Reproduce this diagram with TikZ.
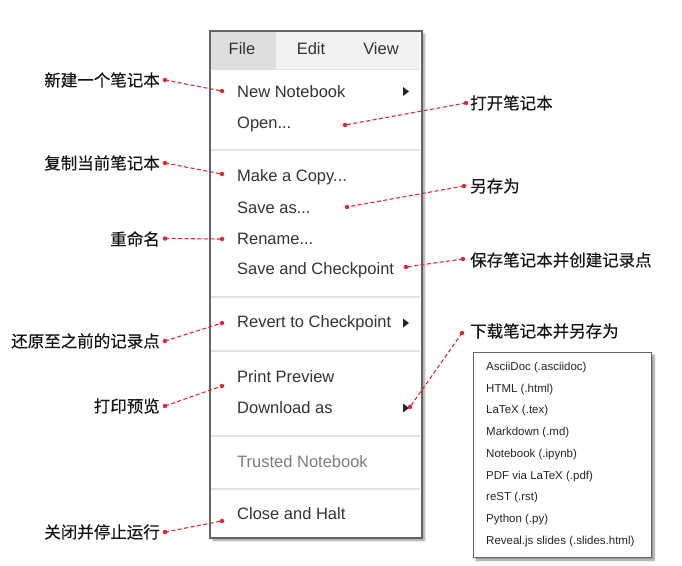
\documentclass[tikz,border=0pt]{standalone}
\usepackage{fontspec}
\setmainfont{Liberation Sans}
\newfontfamily\cjk[FakeBold=0.25]{Noto Sans CJK SC}
\usetikzlibrary{shadows.blur}
\definecolor{menutext}{RGB}{51,51,51}
\definecolor{menugray}{RGB}{125,125,125}
\definecolor{sepgray}{RGB}{226,226,226}
\definecolor{hdrbg}{RGB}{242,242,242}
\definecolor{filebg}{RGB}{222,222,222}
\definecolor{boxborder}{RGB}{100,100,100}
\definecolor{anred}{RGB}{228,38,48}
\tikzset{
  menuitem/.style={anchor=west, inner sep=0pt, text=menutext, font=\fontsize{16.5}{18}\selectfont},
  hdritem/.style={anchor=center, inner sep=0pt, text=menutext, font=\fontsize{16.5}{18}\selectfont},
  dlitem/.style={anchor=west, inner sep=0pt, text=black!85, font=\fontsize{11.5}{13}\selectfont},
  lbl/.style={inner sep=0pt, text=black!92, font=\cjk\fontsize{16.5}{18}\selectfont},
  sep/.style={draw=sepgray, line width=2pt},
  annot/.style={draw=anred, dash pattern=on 4pt off 2.5pt, line width=1.1pt},
  dotmark/.style={circle, fill=anred, inner sep=0pt, minimum size=4.5pt},
  tri/.style={fill=black!85},
  framebox/.style={draw=boxborder, line width=1.3pt, fill=white,
     blur shadow={shadow xshift=2.5pt, shadow yshift=-2.5pt, shadow blur steps=6, shadow opacity=45}}
}
\begin{document}
\begin{tikzpicture}[x=1pt,y=-1pt]
\useasboundingbox (0,0) rectangle (682,565);
% menu box
\node[framebox, anchor=north west, minimum width=211pt, minimum height=506pt, inner sep=0pt] (menu) at (210,31) {};
\fill[hdrbg] (210.6,31.6) rectangle (420.4,69);
\fill[filebg] (210.6,31.6) rectangle (276,69);
\draw[sepgray, line width=1pt] (210.6,69) -- (420.4,69);
\node[hdritem] (hfile) at (242,49) {File};
\node[hdritem] (hedit) at (311,49) {Edit};
\node[hdritem] (hview) at (381,49) {View};
% separators
\foreach \yy in {150,297,351,436,489} \draw[sep] (211,\yy) -- (420,\yy);
% items
\node[menuitem] (inew) at (237,92) {New Notebook};
\node[menuitem] (iopen) at (237,124) {Open...};
\node[menuitem] (icopy) at (237,177) {Make a Copy...};
\node[menuitem] (isave) at (237,208) {Save as...};
\node[menuitem] (iren) at (237,239) {Rename...};
\node[menuitem] (ichk) at (237,270) {Save and Checkpoint};
\node[menuitem] (irev) at (237,323) {Revert to Checkpoint};
\node[menuitem] (iprint) at (237,377) {Print Preview};
\node[menuitem] (idl) at (237,408) {Download as};
\node[menuitem, text=menugray] (itrust) at (237,462) {Trusted Notebook};
\node[menuitem] (iclose) at (237,514) {Close and Halt};
% triangles
\fill[tri] (403,87) -- (409,91.5) -- (403,96) -- cycle;
\fill[tri] (403,318.5) -- (409,323) -- (403,327.5) -- cycle;
\fill[tri] (403,403.5) -- (409,408) -- (403,412.5) -- cycle;
\draw[boxborder, line width=1.3pt] (menu.north west) rectangle (menu.south east);
% download box
\node[framebox, anchor=north west, minimum width=178pt, minimum height=205pt, inner sep=0pt, line width=1pt] (dlbox) at (473,352) {};
\node[dlitem] (d1) at (486,368) {AsciiDoc (.asciidoc)};
\node[dlitem] (d2) at (486,390) {HTML (.html)};
\node[dlitem] (d3) at (486,411) {LaTeX (.tex)};
\node[dlitem] (d4) at (486,433) {Markdown (.md)};
\node[dlitem] (d5) at (486,455) {Notebook (.ipynb)};
\node[dlitem] (d6) at (486,477) {PDF via LaTeX (.pdf)};
\node[dlitem] (d7) at (486,498) {reST (.rst)};
\node[dlitem] (d8) at (486,520) {Python (.py)};
\node[dlitem] (d9) at (486,542) {Reveal.js slides (.slides.html)};
% left labels
\node[lbl, anchor=east] (lnew) at (160,80) {新建一个笔记本};
\node[lbl, anchor=east] (lcopy) at (160,163) {复制当前笔记本};
\node[lbl, anchor=east] (lren) at (160,239) {重命名};
\node[lbl, anchor=east] (lrev) at (160,341) {还原至之前的记录点};
\node[lbl, anchor=east] (lprint) at (160,406) {打印预览};
\node[lbl, anchor=east] (lclose) at (160,532) {关闭并停止运行};
% right labels
\node[lbl, anchor=west] (ropen) at (470,103) {打开笔记本};
\node[lbl, anchor=west] (rsave) at (470,186) {另存为};
\node[lbl, anchor=west] (rchk) at (470,260) {保存笔记本并创建记录点};
\node[lbl, anchor=west] (rdl) at (470,331) {下载笔记本并另存为};
% annotation dots
\node[dotmark] (a1) at (165,80) {};   \node[dotmark] (b1) at (222,91) {};
\node[dotmark] (a2) at (165,163) {};  \node[dotmark] (b2) at (222,174) {};
\node[dotmark] (a3) at (165,238.5) {};\node[dotmark] (b3) at (222,239) {};
\node[dotmark] (a4) at (165,341) {};  \node[dotmark] (b4) at (222,323) {};
\node[dotmark] (a5) at (165,406) {};  \node[dotmark] (b5) at (222,386) {};
\node[dotmark] (a6) at (165,532) {};  \node[dotmark] (b6) at (222,521) {};
\node[dotmark] (c1) at (466,103) {};  \node[dotmark] (e1) at (345,125) {};
\node[dotmark] (c2) at (464,186) {};  \node[dotmark] (e2) at (347,207) {};
\node[dotmark] (c3) at (463,259) {};  \node[dotmark] (e3) at (406,267) {};
\node[dotmark] (c4) at (462,333) {};  \node[dotmark] (e4) at (410,407) {};
\foreach \p/\q in {a1/b1,a2/b2,a3/b3,a4/b4,a5/b5,a6/b6,c1/e1,c2/e2,c3/e3,c4/e4}
  \draw[annot] (\p.center) -- (\q.center);
\end{tikzpicture}
\end{document}
